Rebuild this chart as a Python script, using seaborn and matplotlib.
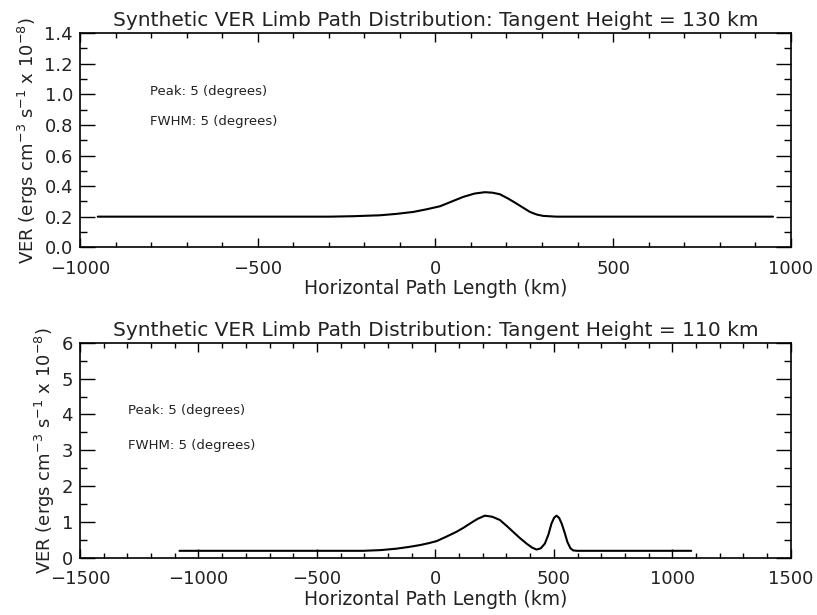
import numpy as np
import pandas as pd
import matplotlib
matplotlib.use("Agg")
import matplotlib.pyplot as plt
import seaborn as sns
from matplotlib.ticker import MultipleLocator, FormatStrFormatter

# ---- data ----
top_x = [-950, -400, -297, -230, -156, -110, -62, -25, 13, 45, 78, 110, 139, 160, 181, 205, 228, 248, 266, 285, 303, 340, 950]
top_y = [0.2, 0.2, 0.2, 0.203, 0.209, 0.218, 0.231, 0.248, 0.268, 0.298, 0.329, 0.351, 0.36, 0.357, 0.347, 0.318, 0.286, 0.257, 0.231, 0.214, 0.205, 0.2, 0.2]

bot_x = [-1080, -400, -305, -230, -164, -110, -65, -30, 5, 45, 89, 118, 146, 178, 209, 240, 272, 300, 328, 356, 385, 408, 427,
         445, 462, 477, 490, 501, 511, 522, 533, 545, 557, 570, 582, 600, 1080]
bot_y = [0.2, 0.2, 0.2, 0.22, 0.26, 0.31, 0.36, 0.41, 0.47, 0.59, 0.73, 0.84, 0.96, 1.09, 1.18, 1.15, 1.06, 0.9, 0.73, 0.56, 0.4, 0.29, 0.235,
         0.27, 0.4, 0.65, 0.96, 1.12, 1.18, 1.12, 0.96, 0.72, 0.45, 0.27, 0.21, 0.2, 0.2]

titles = ["Synthetic VER Limb Path Distribution: Tangent Height = 130 km",
          "Synthetic VER Limb Path Distribution: Tangent Height = 110 km"]
xlabel = "Horizontal Path Length (km)"
ylabel = r"VER (ergs cm$^{-3}$ s$^{-1}$ x 10$^{-8}$)"
notes = ["Peak: 5 (degrees)", "FWHM: 5 (degrees)"]

sns.set_theme(style="ticks")
plt.rcParams['font.family'] = ['DejaVu Sans']
tc = '#222222'

fig = plt.figure(figsize=(8.17, 6.15), dpi=100)
ax1 = fig.add_axes([0.0979, 0.598, 0.870, 0.348])
ax2 = fig.add_axes([0.0979, 0.0927, 0.870, 0.350])

df1 = pd.DataFrame({"x": top_x, "y": top_y})
df2 = pd.DataFrame({"x": bot_x, "y": bot_y})
sns.lineplot(data=df1, x="x", y="y", ax=ax1, color='black', lw=1.5, sort=False)
sns.lineplot(data=df2, x="x", y="y", ax=ax2, color='black', lw=1.5, sort=False)

ax1.set_xlim(-1000, 1000)
ax1.set_ylim(0, 1.4)
ax1.xaxis.set_major_locator(MultipleLocator(500))
ax1.xaxis.set_minor_locator(MultipleLocator(100))
ax1.yaxis.set_major_locator(MultipleLocator(0.2))
ax1.yaxis.set_minor_locator(MultipleLocator(0.1))
ax1.yaxis.set_major_formatter(FormatStrFormatter('%.1f'))

ax2.set_xlim(-1500, 1500)
ax2.set_ylim(0, 6)
ax2.xaxis.set_major_locator(MultipleLocator(500))
ax2.xaxis.set_minor_locator(MultipleLocator(100))
ax2.yaxis.set_major_locator(MultipleLocator(1))
ax2.yaxis.set_minor_locator(MultipleLocator(0.5))

note_pos = [((-803, 1.02), (-803, 0.82)), ((-1297, 4.1), (-1297, 3.13))]
for ax, t, np_ in zip([ax1, ax2], titles, note_pos):
    ax.set_title(t, fontsize=14.5, color=tc, pad=5)
    ax.set_xlabel(xlabel, fontsize=13.5, color=tc, labelpad=1)
    ax.set_ylabel(ylabel, fontsize=13, color=tc, labelpad=3)
    for s in ax.spines.values():
        s.set_visible(True)
        s.set_linewidth(1.2)
        s.set_color('black')
    ax.tick_params(axis='both', which='both', direction='in', top=True, right=True, colors='black', labelcolor=tc)
    ax.tick_params(axis='y', which='major', length=10.5, width=1, labelsize=13, pad=5)
    ax.tick_params(axis='y', which='minor', length=5, width=1)
    ax.tick_params(axis='x', which='major', length=6.5, width=1, labelsize=13, pad=9)
    ax.tick_params(axis='x', which='minor', length=3.5, width=1)
    for (xx, yy), txt in zip(np_, notes):
        ax.text(xx, yy, txt, fontsize=9.5, color=tc, va='center', ha='left')

fig.savefig("out.png", dpi=100)
